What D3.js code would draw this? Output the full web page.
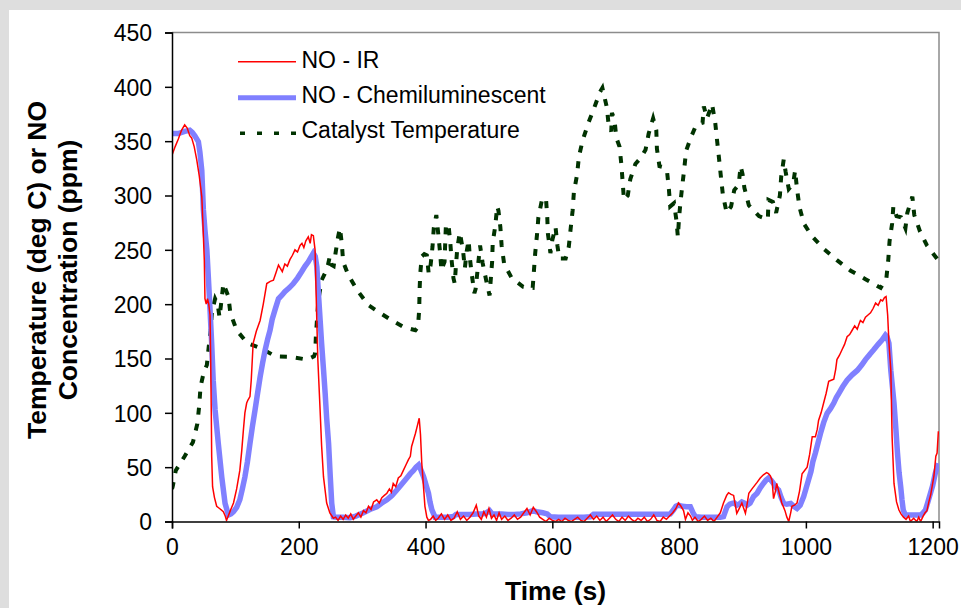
<!DOCTYPE html>
<html><head><meta charset="utf-8">
<script src="https://cdn.jsdelivr.net/npm/d3@7"></script>
<style>body{margin:0;background:#dedede;} svg{display:block;} text{font-family:"Liberation Sans",Arial,sans-serif;}</style>
</head><body><svg id="c" width="961" height="608"></svg>
<script>
const xTicks = [0, 200, 400, 600, 800, 1000, 1200];
const yTicks = [0, 50, 100, 150, 200, 250, 300, 350, 400, 450];
const seriesNames = ["NO - IR", "NO - Chemiluminescent", "Catalyst Temperature"];
const xTitle = "Time (s)";
const yTitleLines = ["Temperature (deg C) or NO", "Concentration (ppm)"];

const noIR = [[0,337],[5,345],[10,352],[15,360],[20,365],[24,362],[28,355],[31,353],[35,345],[39,333],[43,318],[47,299],[49,271],[51,240],[52,205],[54,200],[56,205],[58,200],[60,190],[61,150],[62,100],[62.6,60],[64,32],[67,22],[70.5,14],[75,12],[81,9],[84,5],[86,1],[88,4],[92,10],[97,17],[102,30],[107,47],[110,65],[112.6,84],[115,100],[117.8,109],[120,112],[123,115],[125,130],[128,164],[133,175],[139,185],[144,200],[149.5,219],[155,221],[160,222],[164,229],[168,236],[171,233],[174,230],[178,237],[182,235],[186,241],[190,245],[194,250],[198,248],[202,254],[205,256],[208,252],[211,258],[215,262],[218,256],[220,264],[223,263],[225.7,250],[228,195],[230,150],[233.6,103],[236,70],[239,41],[244,17],[249,8],[254.6,3],[258,4],[262,1],[266,5],[270,2],[274,6],[278,3],[282,7],[286,2],[290,5],[294,8],[298,4],[302,10],[306,8],[310,14],[314,11],[318,18],[323,20],[327,17],[331,22],[335,24],[339,26],[343,30],[346,27],[349,35],[353,32],[357,40],[361,42],[365,47],[369,52],[373,57],[376,60],[378,69],[381,75],[384,81],[387,88],[390,95],[392,80],[394,54],[397,30],[399,14],[402,4],[404.6,1],[408,2],[412,5],[416,1],[420,3],[425,7],[430,2],[435,6],[440,1],[445,3],[450,9],[455,2],[460,5],[465,1],[470,4],[475,8],[480,15],[484,5],[488,2],[492,9],[496,4],[500,12],[504,3],[508,6],[512,1],[516,8],[520,2],[525,5],[530,1],[535,3],[540,6],[545,2],[550,4],[555,8],[560,12],[565,6],[570,13],[575,9],[580,4],[585,2],[590,0],[595,3],[600,1],[605,0],[610,2],[615,0],[620,3],[625,1],[630,0],[635,2],[640,4],[645,1],[650,0],[655,3],[660,6],[665,2],[670,5],[675,1],[680,4],[685,0],[690,3],[695,6],[700,2],[705,0],[710,4],[715,1],[720,5],[725,2],[730,0],[735,3],[740,1],[745,4],[750,0],[755,2],[760,6],[765,1],[770,0],[775,4],[780,2],[785,5],[790,8],[795,12],[799,17],[803,14],[807,10],[810,2],[814,8],[818,5],[821,1],[825,4],[830,0],[835,2],[840,5],[845,1],[850,3],[855,0],[860,4],[865,8],[870,17],[875,24],[878,26.5],[882,25],[886,24],[889,14],[891,7.5],[895,12],[899,17],[902,12],[904.6,7.5],[907,15],[910,26],[915,30],[919,33],[923,36],[928,40],[933,43],[938,45],[941,44],[944,42],[946.6,38],[949,21],[952,28],[954,35],[958,26],[962,17],[967,10],[970,4],[973,0],[976,8],[978,14],[982,15],[986,17],[990,28],[994,44],[998,47],[1002,50],[1006,62],[1010,78],[1015,78],[1018,85],[1020,93],[1024,100],[1028,109],[1032,118],[1036,129],[1040,130],[1044,131],[1047,140],[1049,149],[1053,153],[1057,158],[1061,163],[1065,170],[1069,172],[1073,176],[1077,180],[1081,177],[1084,182],[1086,185],[1090,183],[1094,188],[1098,190],[1102,192],[1106,196],[1110,201],[1114,199],[1118,204],[1121,203],[1124,206],[1126.5,207],[1129,190],[1131,165],[1134,139],[1136,78],[1139,35],[1143,18],[1146.8,10.6],[1150,7],[1154,4],[1158,2],[1162,5],[1165,0],[1170,3],[1175,0],[1178,4],[1181,0],[1185,5],[1188,8],[1191,10],[1194,18],[1197,25],[1200,35],[1202,42],[1205,60],[1207,63],[1209,83]];

const noChem = [[0,357],[5,357],[10,357],[20,359],[28,360],[32,358],[36,355],[41.6,349.5],[44,340],[47,323],[49.5,287],[52,268],[55,250],[57.3,225],[60,195],[62.6,164],[65,130],[68,102.6],[73,72],[78.5,41],[83.7,16.7],[89,6],[93,7],[97,9],[102,13],[107,20],[111,30],[115,41],[119,55],[123,72],[127,88],[131,102.6],[135,118],[139,133],[143,146],[147,158],[151,168],[154.7,176],[158,186],[162.6,195],[168,205],[173,208],[178,211.5],[185,215],[191.5,219],[198,224],[204.7,230],[210,235],[215,239],[219,243],[223,247],[226,244],[228.5,234.5],[231,210],[233.5,187],[236,164],[239,140],[241.6,118],[244,95],[247,72],[249.7,41],[252,16.7],[254.6,4.4],[260,4],[270,4],[281,3.5],[290,5],[302,8],[312,11],[323,13.6],[331,17],[339,20],[347,24],[354.7,29],[362,34],[370.5,40],[376,44],[381,47],[385,50],[389,52],[393,47],[397,41],[401,33],[404.6,26],[407,18],[410,10.6],[415,4],[425,4],[435,4],[444,4.5],[448,6.5],[460,6.5],[470,6.5],[480,7],[490,7],[496,8],[501,10],[505,7],[520,7],[530,6.5],[540,6.5],[550,7],[560,8],[569,10],[575,9],[585,8],[592,7],[597,4.4],[610,4],[620,4],[630,4],[640,4],[650,4],[660,4.4],[665,6.6],[680,6.6],[700,6.6],[720,6.6],[740,6.6],[760,6.6],[780,6.6],[786,7],[791,10.6],[795,14],[799,15],[805,14],[812,13.6],[817.7,13.6],[822,8],[825.6,4.4],[835,4],[845,4],[855,4],[865,4],[870,4.5],[875.6,13.6],[880,16],[883.5,16.7],[887,17],[891,15],[895,16],[899,18],[903,17],[907,15],[912,17],[917.6,23],[923,26],[928,31],[933,35],[937,38],[941,40],[945,38],[949,35],[953,31],[957,29],[961,22],[965,16.7],[970,16],[976,16.7],[981,14],[986,12],[991,15],[996.5,23],[1000,30],[1004,38],[1008,46],[1011,55],[1015,63],[1019,72],[1023,81],[1028,91],[1033.5,99.6],[1039,104],[1044,109],[1048,114],[1052,118],[1058,124],[1065,130],[1073,135],[1081,139],[1088,144],[1094,149],[1101,154],[1107,158],[1114,163],[1120,167],[1125.5,171.6],[1128,170],[1131,164],[1134,139],[1136.5,124],[1139,109],[1142,85],[1144.5,63],[1147,45],[1149.6,32],[1151.6,20],[1153.6,10.6],[1157,6],[1165,6],[1175,6],[1181,6],[1185,8],[1188.6,10.6],[1192,17],[1196.5,26],[1200,33],[1204,44],[1209,53.5]];

const catTemp = [[0,30],[1,32],[6,47],[20,60],[33,73],[40,90],[43,107],[45,124],[50,137],[55,144],[58,161],[61,176],[63,193],[68,205],[72,200],[75,188],[78,203],[81,219],[85,213],[89,207],[92,192],[102,176],[119,164],[142,159],[163,152],[186,151.6],[213,149],[224,152],[226,155],[227,171],[229,188],[231,204],[236,222],[241,228],[246,236],[249,244],[252,236],[255,235],[258,247],[262,262],[265,270],[268,255],[270,239],[276,230],[281,224],[292,213],[310,199],[328,192],[347,185],[365,179],[384,176],[388,179],[390,195],[390.5,211],[391.5,227],[394,244],[398,246],[402,245],[405,228],[408,236],[411,253],[413,270],[417,282],[420,265],[423,247],[425,231],[428,236],[430,239],[431,256],[432,271],[436,274],[439,257],[441,241],[444,224],[446,219],[448,236],[450,251],[454,266],[459,250],[462,233],[465,249],[468,259],[470,242],[473,227],[477,210],[479,214],[482,231],[486,254],[490,238],[496,221],[501,208],[505,239],[506,257],[510,272],[513,290],[515,286],[518,271],[520,254],[524,237],[536,224],[554,216],[569,215],[571,231],[573,247],[576,265],[578,280],[584,297],[590,297],[592,280],[593,265],[597,247],[600,259],[605,271],[607,260],[608,254],[611,242],[621,242],[626,253],[629,270],[632,286],[634,303],[639,319],[642,336],[648,351],[657,367],[665,379],[675,395],[679,399],[686,381],[689,364],[693,359],[694,376],[698,370],[701,353],[706,345],[709,328],[711,312],[713,296],[719,300],[723,315],[731,329],[740,335],[747,342],[752,357],[759,371],[764,360],[765,343],[769,327],[776,326],[781,322],[784,305],[786,290],[792,293],[796,276],[798,262],[800,280],[802,293],[805,309],[808,324],[811,341],[819,354],[827,365],[837,367],[839,382],[844,371],[852,384],[857,367],[860,350],[863,334],[866,317],[869,301],[875,284],[882,290],[887,305],[894,310],[897,327],[900,320],[903,307],[910,291],[926,281],[940,278],[941,296],[948,294],[953,284],[959,300],[961,317],[965,333],[968,322],[973,306],[980,311],[983,323],[986,306],[990,289],[997,274],[1009,263],[1028,251],[1050,240],[1070,231],[1094,223],[1118,215],[1127,224],[1130,241],[1132,258],[1136,274],[1138,290],[1143,281],[1150,280],[1157,270],[1160,284],[1168,299],[1171,282],[1180,267],[1191,254],[1208,241],[1210,240]];

const svg = d3.select("#c");
svg.append("rect").attr("x",0).attr("y",0).attr("width",961).attr("height",608).attr("fill","#dedede");
svg.append("rect").attr("x",9).attr("y",10).attr("width",952).attr("height",598).attr("fill","#ffffff");

const L=172, R=939, T=32.5, B=521.5;
const x = d3.scaleLinear().domain([0,1210]).range([L,R]);
const y = d3.scaleLinear().domain([0,450]).range([B,T]);

svg.append("path").attr("d",`M${L},${T}H${R}V${B}`).attr("fill","none").attr("stroke","#8c8c8c").attr("stroke-width",1.5);

svg.append("clipPath").attr("id","pc").append("rect").attr("x",L).attr("y",T-4).attr("width",R-L).attr("height",B-T+4);
const g = svg.append("g").attr("clip-path","url(#pc)");
const line = d3.line().x(d=>x(d[0])).y(d=>y(d[1]));

g.append("path").datum(catTemp).attr("d",line).attr("fill","none").attr("stroke","#003300").attr("stroke-width",4).attr("stroke-dasharray","7,9");
g.append("path").datum(noChem).attr("d",line).attr("fill","none").attr("stroke","#8080ff").attr("stroke-width",5.5).attr("stroke-linejoin","miter");
g.append("path").datum(noIR).attr("d",line).attr("fill","none").attr("stroke","#ff0000").attr("stroke-width",1.5);

const yAxis = svg.append("g").attr("transform",`translate(${L},0)`).call(d3.axisLeft(y).tickValues(yTicks).tickSize(7).tickPadding(13).tickFormat(d3.format("d")));
const xAxis = svg.append("g").attr("transform",`translate(0,${B})`).call(d3.axisBottom(x).tickValues(xTicks).tickSize(7).tickPadding(10).tickFormat(d3.format("d")));
[yAxis,xAxis].forEach(a=>{
  a.select(".domain").attr("stroke","#000").attr("stroke-width",1.5);
  a.selectAll(".tick line").attr("stroke","#000").attr("stroke-width",1.5);
  a.selectAll(".tick text").attr("fill","#000").style("font-size","23px").style("font-family","'Liberation Sans',Arial,sans-serif");
});
yAxis.selectAll(".tick text").attr("dy","0.36em");
xAxis.selectAll(".tick text").attr("dy","0.72em");

svg.append("text").attr("x",(L+R)/2).attr("y",600).attr("text-anchor","middle").style("font-size","26.5px").style("font-weight","bold").text(xTitle);
const yt = svg.append("text").attr("transform","translate(0,270) rotate(-90)").attr("text-anchor","middle").style("font-size","26.5px").style("font-weight","bold");
yt.append("tspan").attr("x",0).attr("y",46).text(yTitleLines[0]);
yt.append("tspan").attr("x",0).attr("y",77).text(yTitleLines[1]);

const lg = svg.append("g");
const rows = [
  {name:seriesNames[0], color:"#ff0000", w:1.5, dash:null, ly:61.7, ty:68.3},
  {name:seriesNames[1], color:"#8080ff", w:5, dash:null, ly:97.7, ty:103.3},
  {name:seriesNames[2], color:"#003300", w:3.5, dash:"5,12", ly:133.3, ty:138.3}
];
rows.forEach(r=>{
  const l = lg.append("line").attr("x1",238).attr("x2",296).attr("y1",r.ly).attr("y2",r.ly).attr("stroke",r.color).attr("stroke-width",r.w);
  if(r.dash) l.attr("x1",240).attr("stroke-dasharray",r.dash);
  lg.append("text").attr("x",301.5).attr("y",r.ty).style("font-size","23px").attr("fill","#000").text(r.name);
});
</script></body></html>
